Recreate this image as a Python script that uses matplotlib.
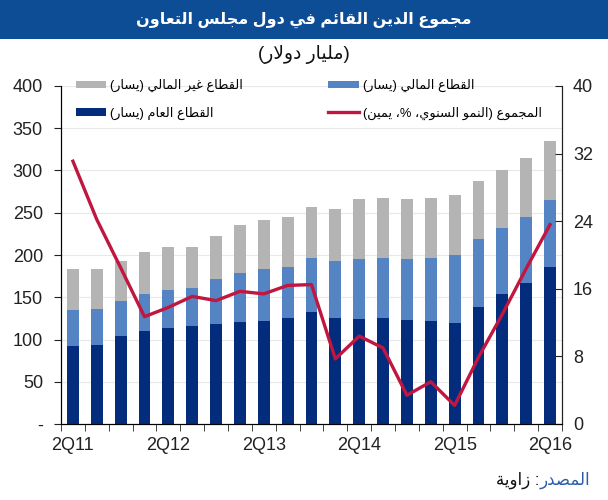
import numpy as np
import matplotlib
matplotlib.use('Agg')
import matplotlib.pyplot as plt
from matplotlib.patches import Rectangle

# quarterly data, 2Q11 .. 2Q16 (USD bn, growth in %)
quarters = ['2Q11', '3Q11', '4Q11', '1Q12', '2Q12', '3Q12', '4Q12', '1Q13', '2Q13', '3Q13', '4Q13',
            '1Q14', '2Q14', '3Q14', '4Q14', '1Q15', '2Q15', '3Q15', '4Q15', '1Q16', '2Q16']
public = [92, 93, 104, 110, 114, 116, 118, 121, 122, 126, 132, 125, 124, 125, 123, 122, 120, 138, 154, 167, 186]
financial = [43, 43, 41, 44, 44, 45, 54, 58, 61, 60, 65, 68, 71, 72, 72, 75, 80, 81, 78, 78, 79]
non_financial = [48, 47, 48, 50, 51, 49, 50, 57, 58, 59, 60, 61, 71, 70, 71, 70, 71, 69, 69, 70, 70]
growth = [31.1, 24.2, 18.5, 12.7, 13.8, 15.1, 14.6, 15.7, 15.4, 16.4, 16.5, 7.7, 10.4, 9.0, 3.4, 5.0, 2.2,
          7.9, 13.0, 18.4, 23.6]
left_ticks = [0, 50, 100, 150, 200, 250, 300, 350, 400]
right_ticks = [0, 8, 16, 24, 32, 40]

title = 'مجموع الدين القائم في دول مجلس التعاون'
subtitle = '(مليار دولار)'
lbl_nonfin = 'القطاع غير المالي (يسار)'
lbl_public = 'القطاع العام (يسار)'
lbl_fin = 'القطاع المالي (يسار)'
lbl_growth = 'المجموع (النمو السنوي، %، يمين)'
src_a = 'المصدر'
src_b = ': زاوية'

# --- tiny arabic shaper: presentation forms + visual order (no bidi lib here)
AR = {
    '\u0627': (0xFE8D, False), '\u0628': (0xFE8F, True), '\u0629': (0xFE93, False), '\u062A': (0xFE95, True),
    '\u062B': (0xFE99, True), '\u062C': (0xFE9D, True), '\u062D': (0xFEA1, True), '\u062E': (0xFEA5, True),
    '\u062F': (0xFEA9, False), '\u0630': (0xFEAB, False), '\u0631': (0xFEAD, False), '\u0632': (0xFEAF, False),
    '\u0633': (0xFEB1, True), '\u0634': (0xFEB5, True), '\u0635': (0xFEB9, True), '\u0636': (0xFEBD, True),
    '\u0637': (0xFEC1, True), '\u0638': (0xFEC5, True), '\u0639': (0xFEC9, True), '\u063A': (0xFECD, True),
    '\u0641': (0xFED1, True), '\u0642': (0xFED5, True), '\u0643': (0xFED9, True), '\u0644': (0xFEDD, True),
    '\u0645': (0xFEE1, True), '\u0646': (0xFEE5, True), '\u0647': (0xFEE9, True), '\u0648': (0xFEED, False),
    '\u0649': (0xFEEF, False), '\u064A': (0xFEF1, True), '\u0626': (0xFE89, True),
}


def ar(text):
    out = []
    i = 0
    n = len(text)
    while i < n:
        c = text[i]
        if c not in AR:
            out.append(c)
            i += 1
            continue
        prev = text[i - 1] if i > 0 else ''
        jp = prev in AR and AR[prev][1]
        if c == '\u0644' and i + 1 < n and text[i + 1] == '\u0627':
            out.append(chr(0xFEFC if jp else 0xFEFB))
            i += 2
            continue
        nxt = text[i + 1] if i + 1 < n else ''
        jn = AR[c][1] and nxt in AR
        base = AR[c][0]
        if jp and jn:
            out.append(chr(base + 3))
        elif jp:
            out.append(chr(base + 1))
        elif jn:
            out.append(chr(base + 2))
        else:
            out.append(chr(base))
        i += 1
    return ''.join(reversed(out)).translate(str.maketrans('()', ')('))


fam = ['Liberation Sans', 'DejaVu Sans']
plt.rcParams['font.family'] = fam

c_public = '#032d7c'
c_fin = '#5584c4'
c_nonfin = '#b4b4b4'
c_line = '#c0163f'

fig = plt.figure(figsize=(6.08, 5), dpi=100)
ax = fig.add_axes([61 / 608, 76 / 500, 501 / 608, 338 / 500])

x = np.arange(len(quarters))
pub = np.array(public)
fin = np.array(financial)
nonf = np.array(non_financial)

b1 = ax.bar(x, pub, width=0.5, color=c_public, zorder=2)
b2 = ax.bar(x, fin, width=0.5, bottom=pub, color=c_fin, zorder=2)
b3 = ax.bar(x, nonf, width=0.5, bottom=pub + fin, color=c_nonfin, zorder=2)

ax.set_xlim(-0.5, len(quarters) - 0.5)
ax.set_ylim(0, 400)
ax.set_yticks(left_ticks)
ax.set_yticklabels(['-'] + [str(v) for v in left_ticks[1:]])
ax.grid(axis='y', color='#e8e8e8', linewidth=0.8, zorder=0)
ax.set_axisbelow(True)

ax.set_xticks(x[::4])
ax.set_xticklabels(quarters[::4])
ax.set_xticks(np.arange(-0.5, len(quarters), 1), minor=True)
ax.tick_params(axis='x', which='major', length=0, pad=9, labelsize=13, colors='#222222')
ax.tick_params(axis='x', which='minor', length=5, direction='out', color='#222222')
ax.tick_params(axis='y', length=5, direction='out', labelsize=13, colors='#222222', pad=8)

for s in ['top']:
    ax.spines[s].set_visible(False)
for s in ['left', 'bottom', 'right']:
    ax.spines[s].set_color('#222222')

ax2 = ax.twinx()
ln, = ax2.plot(x, growth, color=c_line, linewidth=2.4, zorder=3, solid_joinstyle='round')
ax2.set_ylim(0, 40)
ax2.set_yticks(right_ticks)
ax2.tick_params(axis='y', length=5, direction='in', labelsize=13, colors='#222222', pad=8)
ax2.spines['top'].set_visible(False)
ax2.spines['right'].set_color('#222222')

leg = ax.legend([b3, b1, b2, ln], [ar(lbl_nonfin), ar(lbl_public), ar(lbl_fin), ar(lbl_growth)],
                ncol=2, loc='upper left', bbox_to_anchor=(76 / 608, 1 - 79 / 500),
                bbox_transform=fig.transFigure, frameon=False, fontsize=9.3,
                handlelength=2.35, handleheight=0.55, handletextpad=0.3,
                columnspacing=6.6, labelspacing=1.1, borderaxespad=0, borderpad=0)

# title banner
fig.patches.append(Rectangle((0, 1 - 39 / 500), 1, 39 / 500, transform=fig.transFigure,
                             facecolor='#0c4d96', edgecolor='none'))
fig.text(0.5, 1 - 20 / 500, ar(title), color='white', fontsize=11.5, fontweight='bold',
         ha='center', va='center')
fig.text(0.5, 1 - 54 / 500, ar(subtitle), color='#111111', fontsize=13.5, ha='center', va='center')

# source, two colours
t1 = fig.text(590 / 608, 1 - 480 / 500, ar(src_a), color='#2a5ea8', fontsize=12, ha='right', va='center')
r = fig.canvas.get_renderer()
bb = t1.get_window_extent(r)
fig.text(bb.x0 / fig.bbox.width, 1 - 480 / 500, ar(src_b), color='#111111', fontsize=12,
         ha='right', va='center')

fig.savefig('out.png', dpi=100)
